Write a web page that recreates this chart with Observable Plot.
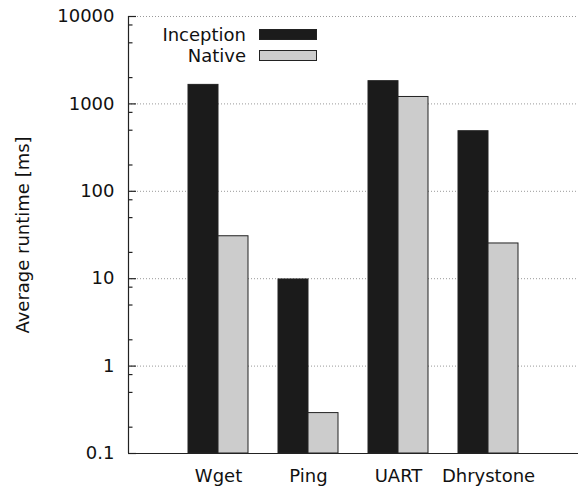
<!DOCTYPE html>
<html><head><meta charset="utf-8">
<script src="https://cdn.jsdelivr.net/npm/d3@7"></script>
<script src="https://cdn.jsdelivr.net/npm/@observablehq/plot@0.6"></script>
<style>
body{margin:0;background:#fff;font-family:"DejaVu Sans",sans-serif;}
#wrap{position:relative;width:578px;height:489px;}
.lt{position:absolute;font-size:18px;color:#111;text-align:right;width:120px;line-height:18px;}
.sw{position:absolute;box-sizing:border-box;border:1px solid #222;width:58px;height:11px;}
</style></head><body><div id="wrap"></div>
<script>
const categories = ["Wget", "Ping", "UART", "Dhrystone"];
const series = ["Inception", "Native"];
const inception = [1650, 9.8, 1820, 487];
const native = [30.6, 0.29, 1200, 25.3];
const majorTicks = [0.1, 1, 10, 100, 1000, 10000];
const tickLabels = ["0.1", "1", "10", "100", "1000", "10000"];
const minorTicks = [0.2, 0.5, 0.8, 2, 5, 8, 20, 50, 80, 200, 500, 800, 2000, 5000, 8000];
const colors = ["#1b1b1b", "#cccccc"];
const yLabel = "Average runtime [ms]";

const W = 578, H = 489, ML = 128, MR = 0;
const xDomain = [0, 5];
const yDomain = [0.1, 10000];
const barW = 1 / 3;
const pxPerUnit = (W - ML - MR) / (xDomain[1] - xDomain[0]);
const majorLen = 8 / pxPerUnit, minorLen = 4.5 / pxPerUnit;

const rows = categories.flatMap((c, i) => series.map((s, j) => ({
  category: c, series: s, pos: i + 1, value: j === 0 ? inception[i] : native[i]
})));

const chart = Plot.plot({
  width: W, height: H,
  marginLeft: ML, marginRight: MR, marginTop: 16, marginBottom: 36,
  style: {fontFamily: "DejaVu Sans, sans-serif", fontSize: "18px", color: "#111", background: "#fff"},
  x: {domain: xDomain, axis: null},
  y: {type: "log", domain: yDomain, axis: null},
  color: {domain: series, range: colors},
  marks: [
    Plot.ruleY(majorTicks, {stroke: "#999", strokeDasharray: "1,2", strokeWidth: 1}),
    Plot.rectY(rows, {
      x1: d => d.series === series[0] ? d.pos - barW : d.pos,
      x2: d => d.series === series[0] ? d.pos : d.pos + barW,
      y1: yDomain[0], y2: "value",
      fill: "series", stroke: "#222", strokeWidth: 1
    }),
    Plot.ruleY(majorTicks, {x1: xDomain[0], x2: xDomain[0] + majorLen, stroke: "#222", strokeWidth: 1.2}),
    Plot.ruleY(minorTicks, {x1: xDomain[0], x2: xDomain[0] + minorLen, stroke: "#222", strokeWidth: 1.2}),
    Plot.axisY(majorTicks, {tickSize: 0, tickPadding: 14, tickFormat: d => tickLabels[majorTicks.indexOf(d)], label: null, fontSize: 18}),
    Plot.ruleX([xDomain[0]], {stroke: "#222", strokeWidth: 1.2}),
    Plot.ruleY([yDomain[0]], {stroke: "#222", strokeWidth: 1.2}),
    Plot.axisX([1, 2, 3, 4], {tickSize: 0, tickPadding: 16, tickFormat: d => categories[d - 1], label: null, fontSize: 18}),
    Plot.text([yLabel], {text: d => d, frameAnchor: "left", textAnchor: "middle", rotate: -90, dx: -105, fontSize: 18, fill: "#111"})
  ]
});
const wrap = document.getElementById("wrap");
wrap.appendChild(chart);

// legend overlay
series.forEach((s, j) => {
  const t = document.createElement("div");
  t.className = "lt";
  t.textContent = s;
  t.style.left = (246 - 120) + "px";
  t.style.top = (26 + j * 21) + "px";
  wrap.appendChild(t);
  const b = document.createElement("div");
  b.className = "sw";
  b.style.left = "259px";
  b.style.top = (29 + j * 21) + "px";
  b.style.background = colors[j];
  wrap.appendChild(b);
});
</script></body></html>
